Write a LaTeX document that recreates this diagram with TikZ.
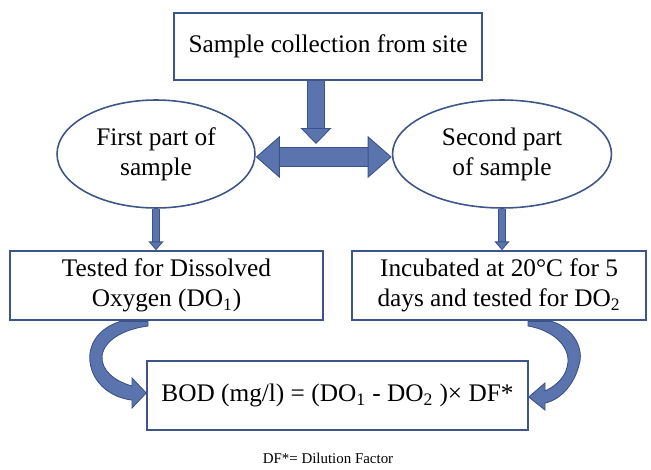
\documentclass[tikz,border=0pt]{standalone}
\usepackage{fontspec}
\setmainfont{Liberation Serif}
\usepackage{tikz}
\usetikzlibrary{positioning}
\usetikzlibrary{shapes, arrows.meta}

\definecolor{boxline}{HTML}{3E5587}
\definecolor{arrfill}{HTML}{5B74AE}
\definecolor{arredge}{HTML}{3A5287}

\tikzset{
    bighead/.tip={Triangle[width=23.9pt, length=13.7pt, line width=0.5pt, fill=arrfill, color=arredge]},
    midhead/.tip={Triangle[width=17.6pt, length=9.1pt, line width=0.5pt, fill=arrfill, color=arredge]},
    smallhead/.tip={Triangle[width=8.5pt, length=5pt, line width=0.5pt, fill=arrfill, color=arredge]}
}

\begin{document}
\begin{tikzpicture}[
    x=0.02cm, y=-0.02cm,
    box/.style={
        rectangle, draw=boxline, line width=0.9pt, fill=white,
        minimum height=1.38cm, align=center, inner sep=2pt,
        font=\fontsize{14.4}{17}\selectfont
    },
    oval/.style={
        ellipse, draw=boxline, line width=0.9pt, fill=white,
        minimum height=2.16cm, align=center, inner sep=0pt,
        font=\fontsize{14.4}{17}\selectfont
    },
    fat/.style={
        draw=arredge, line width=0.5pt, double=arrfill, double distance=#1
    },
    bent/.style={
        draw=arredge, fill=arrfill, line width=0.5pt
    }
]
\useasboundingbox (0,0) rectangle (651,469);

% Top level
\node[box, minimum width=6.16cm, minimum height=1.34cm] (collect) at (328,46.5) {Sample collection from site};

% Split into two parts
\node[oval, minimum width=3.96cm] (firstpart) at (156,154) {First part of\\ sample};
\node[oval, minimum width=4.38cm] (secondpart) at (502,154) {Second part\\ of sample};

% Tests
\node[box, minimum width=6.26cm] (dotest) at (166.5,285.5) {Tested for Dissolved\\ Oxygen (DO\textsubscript{1})};
\node[box, minimum width=5.88cm] (incubate) at (499,285.5) {Incubated at 20°C for 5\\ days and tested for DO\textsubscript{2}};

% Result
\node[box, minimum width=7.62cm] (bod) at (337.5,395.5) {BOD (mg/l) = (DO\textsubscript{1} - DO\textsubscript{2} )× DF*};
\node[font=\fontsize{8.5}{10}\selectfont] (note) at (328,458) {DF*= Dilution Factor};

% Draw connections
\coordinate (split) at (316,144);
\draw[fat=8.7pt, -midhead] (collect.south -| split) -- (split);
\draw[fat=10.4pt, bighead-bighead] ([yshift=-0.06cm]firstpart.east) -- ([yshift=-0.06cm]secondpart.west);
\draw[fat=3pt, -smallhead] (firstpart.south) -- (firstpart.south |- dotest.north);
\draw[fat=3pt, -smallhead] (secondpart.south) -- (secondpart.south |- incubate.north);

% Curved arrows into the result box
\path[bent] (120,321.5) .. controls (97,329) and (88,346) .. (90,362)
    .. controls (93,385) and (113,398) .. (132,400) -- (132,408) -- (bod.west |- 0,393)
    -- (132,378) -- (132,386) .. controls (114,381) and (101,370) .. (102,356)
    .. controls (104,340) and (124,329) .. (148,326) -- (148,321.5) -- cycle;
\path[bent] (552,321.5) .. controls (575,329) and (584,350) .. (579,365)
    .. controls (574,385) and (560,400) .. (545,403) -- (545,410) -- (bod.east |- 0,397)
    -- (545,383) -- (545,391) .. controls (558,385) and (567,375) .. (568,362)
    .. controls (569,345) and (552,330) .. (528,326) -- (528,321.5) -- cycle;

\end{tikzpicture}
\end{document}
